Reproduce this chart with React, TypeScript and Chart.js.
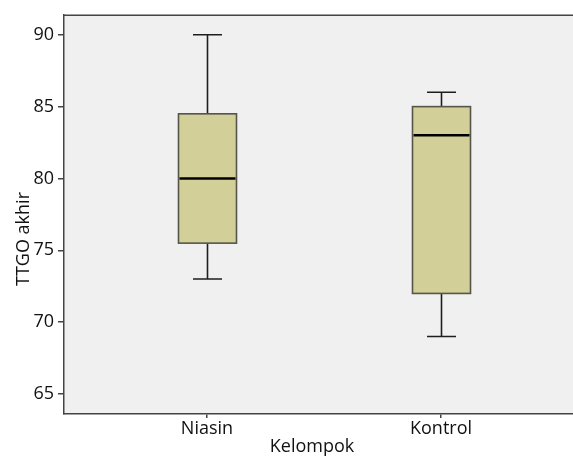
import { useEffect, useRef } from 'react';
import { Chart, registerables } from 'chart.js';

Chart.register(...registerables);

const categories = ['Niasin', 'Kontrol'];
const mins = [73, 69];
const q1s = [75.5, 72];
const medians = [80, 83];
const q3s = [84.5, 85];
const maxs = [90, 86];
const yTicks = [65, 70, 75, 80, 85, 90];
const xTitle = 'Kelompok';
const yTitle = 'TTGO akhir';

const FONT = '"Open Sans", sans-serif';
const FONT_SIZE = 18;

const boxPlugin = {
  id: 'spssBox',
  beforeDraw(chart: any) {
    const { ctx, chartArea: a } = chart;
    ctx.save();
    ctx.fillStyle = '#ffffff';
    ctx.fillRect(0, 0, chart.width, chart.height);
    ctx.fillStyle = '#f0f0f0';
    ctx.fillRect(a.left, a.top, a.right - a.left, a.bottom - a.top);
    ctx.restore();
  },
  afterDatasetsDraw(chart: any) {
    const { ctx, scales } = chart;
    const xs = scales.x;
    const ys = scales.y;
    const boxHalf = 29;
    const capHalf = 14.5;
    ctx.save();
    categories.forEach((_, i) => {
      const cx = Math.round(xs.getPixelForValue(i + 1)) + 0.5;
      const yMin = ys.getPixelForValue(mins[i]);
      const yQ1 = ys.getPixelForValue(q1s[i]);
      const yMed = ys.getPixelForValue(medians[i]);
      const yQ3 = ys.getPixelForValue(q3s[i]);
      const yMax = ys.getPixelForValue(maxs[i]);
      // whiskers
      ctx.strokeStyle = '#1e1e1e';
      ctx.lineWidth = 1.6;
      ctx.beginPath();
      ctx.moveTo(cx, yQ3);
      ctx.lineTo(cx, yMax);
      ctx.moveTo(cx - capHalf, yMax);
      ctx.lineTo(cx + capHalf, yMax);
      ctx.moveTo(cx, yQ1);
      ctx.lineTo(cx, yMin);
      ctx.moveTo(cx - capHalf, yMin);
      ctx.lineTo(cx + capHalf, yMin);
      ctx.stroke();
      // box
      ctx.fillStyle = '#d3cf99';
      ctx.fillRect(cx - boxHalf, yQ3, boxHalf * 2, yQ1 - yQ3);
      ctx.strokeStyle = '#55554a';
      ctx.lineWidth = 1.6;
      ctx.strokeRect(cx - boxHalf, yQ3, boxHalf * 2, yQ1 - yQ3);
      // median
      ctx.strokeStyle = '#000000';
      ctx.lineWidth = 2.5;
      ctx.beginPath();
      ctx.moveTo(cx - boxHalf + 1, yMed);
      ctx.lineTo(cx + boxHalf - 1, yMed);
      ctx.stroke();
    });
    ctx.restore();
  },
  afterDraw(chart: any) {
    const { ctx, chartArea: a } = chart;
    ctx.save();
    ctx.strokeStyle = '#444444';
    ctx.lineWidth = 1.5;
    ctx.beginPath();
    ctx.moveTo(a.left, a.top + 0.5);
    ctx.lineTo(a.right, a.top + 0.5);
    ctx.stroke();
    ctx.fillStyle = '#111111';
    ctx.font = `${FONT_SIZE}px ${FONT}`;
    ctx.textAlign = 'center';
    ctx.textBaseline = 'alphabetic';
    ctx.fillText(xTitle, 312, 452);
    ctx.translate(29, 239);
    ctx.rotate(-Math.PI / 2);
    ctx.fillText(yTitle, 0, 0);
    ctx.restore();
  },
};

export default function App() {
  const ref = useRef<HTMLCanvasElement>(null);
  useEffect(() => {
    document.body.style.margin = '0';
    const canvas = ref.current;
    if (!canvas) return;
    const chart = new Chart(canvas, {
      type: 'scatter',
      data: { datasets: [{ data: [], pointRadius: 0 }] },
      options: {
        animation: false,
        responsive: false,
        devicePixelRatio: 1,
        layout: { padding: { top: 14, right: 0, left: 0, bottom: 0 } },
        plugins: { legend: { display: false }, tooltip: { enabled: false } },
        scales: {
          x: {
            type: 'linear',
            min: 0.389,
            max: 2.564,
            afterFit: (s: any) => { s.height = 42; },
            afterBuildTicks: (s: any) => { s.ticks = categories.map((_, i) => ({ value: i + 1 })); },
            ticks: {
              callback: (v: any) => categories[Number(v) - 1] ?? '',
              color: '#111111',
              font: { family: FONT, size: FONT_SIZE },
              padding: 0,
              maxRotation: 0,
              autoSkip: false,
            },
            grid: { display: true, drawOnChartArea: false, drawTicks: true, tickLength: 4, color: '#444444', lineWidth: 1.5 },
            border: { display: true, color: '#444444', width: 1.5 },
          },
          y: {
            type: 'linear',
            min: 63.61,
            max: 91.39,
            afterFit: (s: any) => { s.width = 64; },
            afterBuildTicks: (s: any) => { s.ticks = yTicks.map((v) => ({ value: v })); },
            ticks: {
              color: '#111111',
              font: { family: FONT, size: FONT_SIZE },
              padding: 4,
            },
            grid: { display: true, drawOnChartArea: false, drawTicks: true, tickLength: 6, color: '#444444', lineWidth: 1.5 },
            border: { display: true, color: '#444444', width: 1.5 },
          },
        },
      },
      plugins: [boxPlugin],
    });
    return () => chart.destroy();
  }, []);
  return (
    <div style={{ width: 573, height: 456 }}>
      <canvas ref={ref} width={573} height={456} style={{ display: 'block', width: 573, height: 456 }} />
    </div>
  );
}
